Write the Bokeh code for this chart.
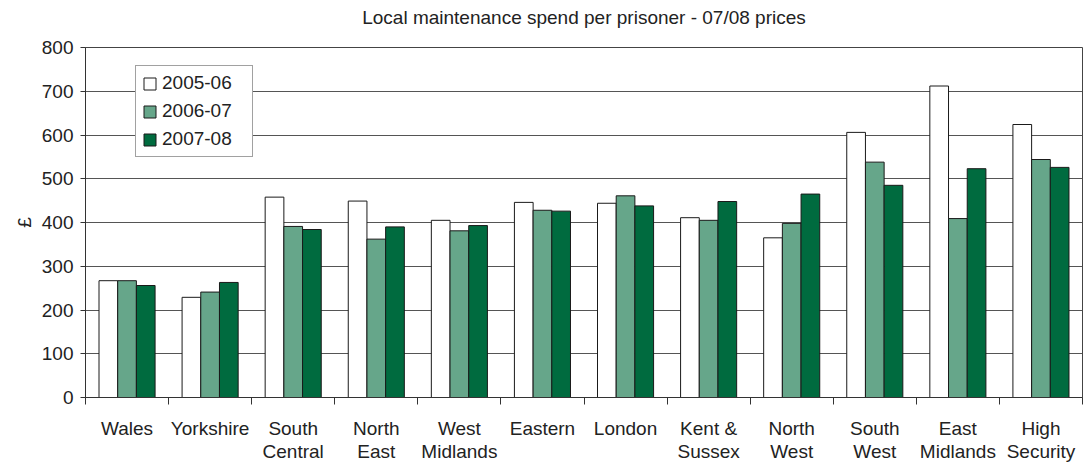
from bokeh.plotting import figure
from bokeh.models import ColumnDataSource, FixedTicker, Legend, LegendItem, Range1d, Title
from bokeh.transform import dodge
from bokeh.embed import file_html
from bokeh.resources import INLINE

# ---- data ----
regions = ["Wales", "Yorkshire", "South\nCentral", "North\nEast", "West\nMidlands",
           "Eastern", "London", "Kent &\nSussex", "North\nWest", "South\nWest",
           "East\nMidlands", "High\nSecurity"]
years = ["2005-06", "2006-07", "2007-08"]
spend_2005_06 = [267, 229, 458, 449, 405, 446, 444, 411, 365, 606, 712, 624]
spend_2006_07 = [267, 241, 391, 362, 381, 428, 461, 405, 398, 538, 409, 544]
spend_2007_08 = [256, 263, 384, 390, 393, 426, 438, 448, 465, 485, 523, 526]
y_ticks = [0, 100, 200, 300, 400, 500, 600, 700, 800]
chart_title = "Local maintenance spend per prisoner - 07/08 prices"

FONT = "Liberation Sans"
TXT = "#222222"
LINE = "#333333"
fills = ["#FFFFFF", "#66A68A", "#006B3F"]

idx = list(range(len(regions)))
src = ColumnDataSource(dict(idx=idx, a=spend_2005_06, b=spend_2006_07, c=spend_2007_08))

p = figure(width=1084, height=465, output_backend="svg", toolbar_location=None,
           x_range=Range1d(-0.5, len(regions) - 0.5), y_range=Range1d(0, 800),
           min_border_left=85, min_border_right=2, min_border_top=47, min_border_bottom=68)
p.title = None
p.background_fill_color = "white"
p.border_fill_color = "white"
p.outline_line_color = "#444444"
p.outline_line_width = 1

bw = 0.225
renderers = []
for col, off, fc in zip(["a", "b", "c"], [-bw, 0.0, bw], fills):
    r = p.vbar(x=dodge("idx", off), top=col, width=bw, source=src,
               fill_color=fc, line_color="#1a1a1a", line_width=1)
    renderers.append(r)

# spacer between frame and title, then the title itself
p.add_layout(Title(text=" ", text_font_size="1px", standoff=17), "above")
p.add_layout(Title(text=chart_title, align="center", vertical_align="bottom",
                   text_font=FONT, text_font_size="19px", text_font_style="normal",
                   text_color=TXT, standoff=0, offset=-8), "above")

# x axis
xa = p.xaxis[0]
xa.ticker = FixedTicker(ticks=idx, minor_ticks=[i - 0.5 for i in range(len(regions) + 1)])
xa.major_label_overrides = {i: lab for i, lab in zip(idx, regions)}
xa.major_tick_out = 0
xa.major_tick_in = 0
xa.minor_tick_out = 7
xa.minor_tick_in = 0
xa.minor_tick_line_color = LINE
xa.axis_line_color = LINE
xa.major_label_text_font = FONT
xa.major_label_text_font_size = "19px"
xa.major_label_text_color = TXT
xa.major_label_text_line_height = 1.1
xa.major_label_standoff = 13
xa.major_label_orientation = "horizontal"

# y axis
ya = p.yaxis[0]
ya.ticker = FixedTicker(ticks=y_ticks)
ya.major_tick_out = 5
ya.major_tick_in = 0
ya.minor_tick_line_color = None
ya.axis_line_color = LINE
ya.major_tick_line_color = LINE
ya.major_label_text_font = FONT
ya.major_label_text_font_size = "19px"
ya.major_label_text_color = TXT
ya.major_label_standoff = 7
ya.axis_label = "£"
ya.axis_label_text_font = FONT
ya.axis_label_text_font_size = "19px"
ya.axis_label_text_font_style = "normal"
ya.axis_label_text_color = TXT
ya.axis_label_standoff = 4

p.xgrid.grid_line_color = None
p.ygrid.grid_line_color = "#555555"
p.ygrid.grid_line_width = 1

legend = Legend(items=[LegendItem(label=y, renderers=[r]) for y, r in zip(years, renderers)],
                location=(50, 240))
legend.label_text_font = FONT
legend.label_text_font_size = "19px"
legend.label_text_color = TXT
legend.glyph_width = 15
legend.glyph_height = 15
legend.label_standoff = 5
legend.label_width = 84
legend.padding = 6
legend.spacing = 6
legend.margin = 0
legend.border_line_color = "#444444"
legend.border_line_width = 1
legend.background_fill_color = "white"
legend.background_fill_alpha = 1.0
p.add_layout(legend, "center")

open("out.html", "w").write(file_html(p, INLINE))
